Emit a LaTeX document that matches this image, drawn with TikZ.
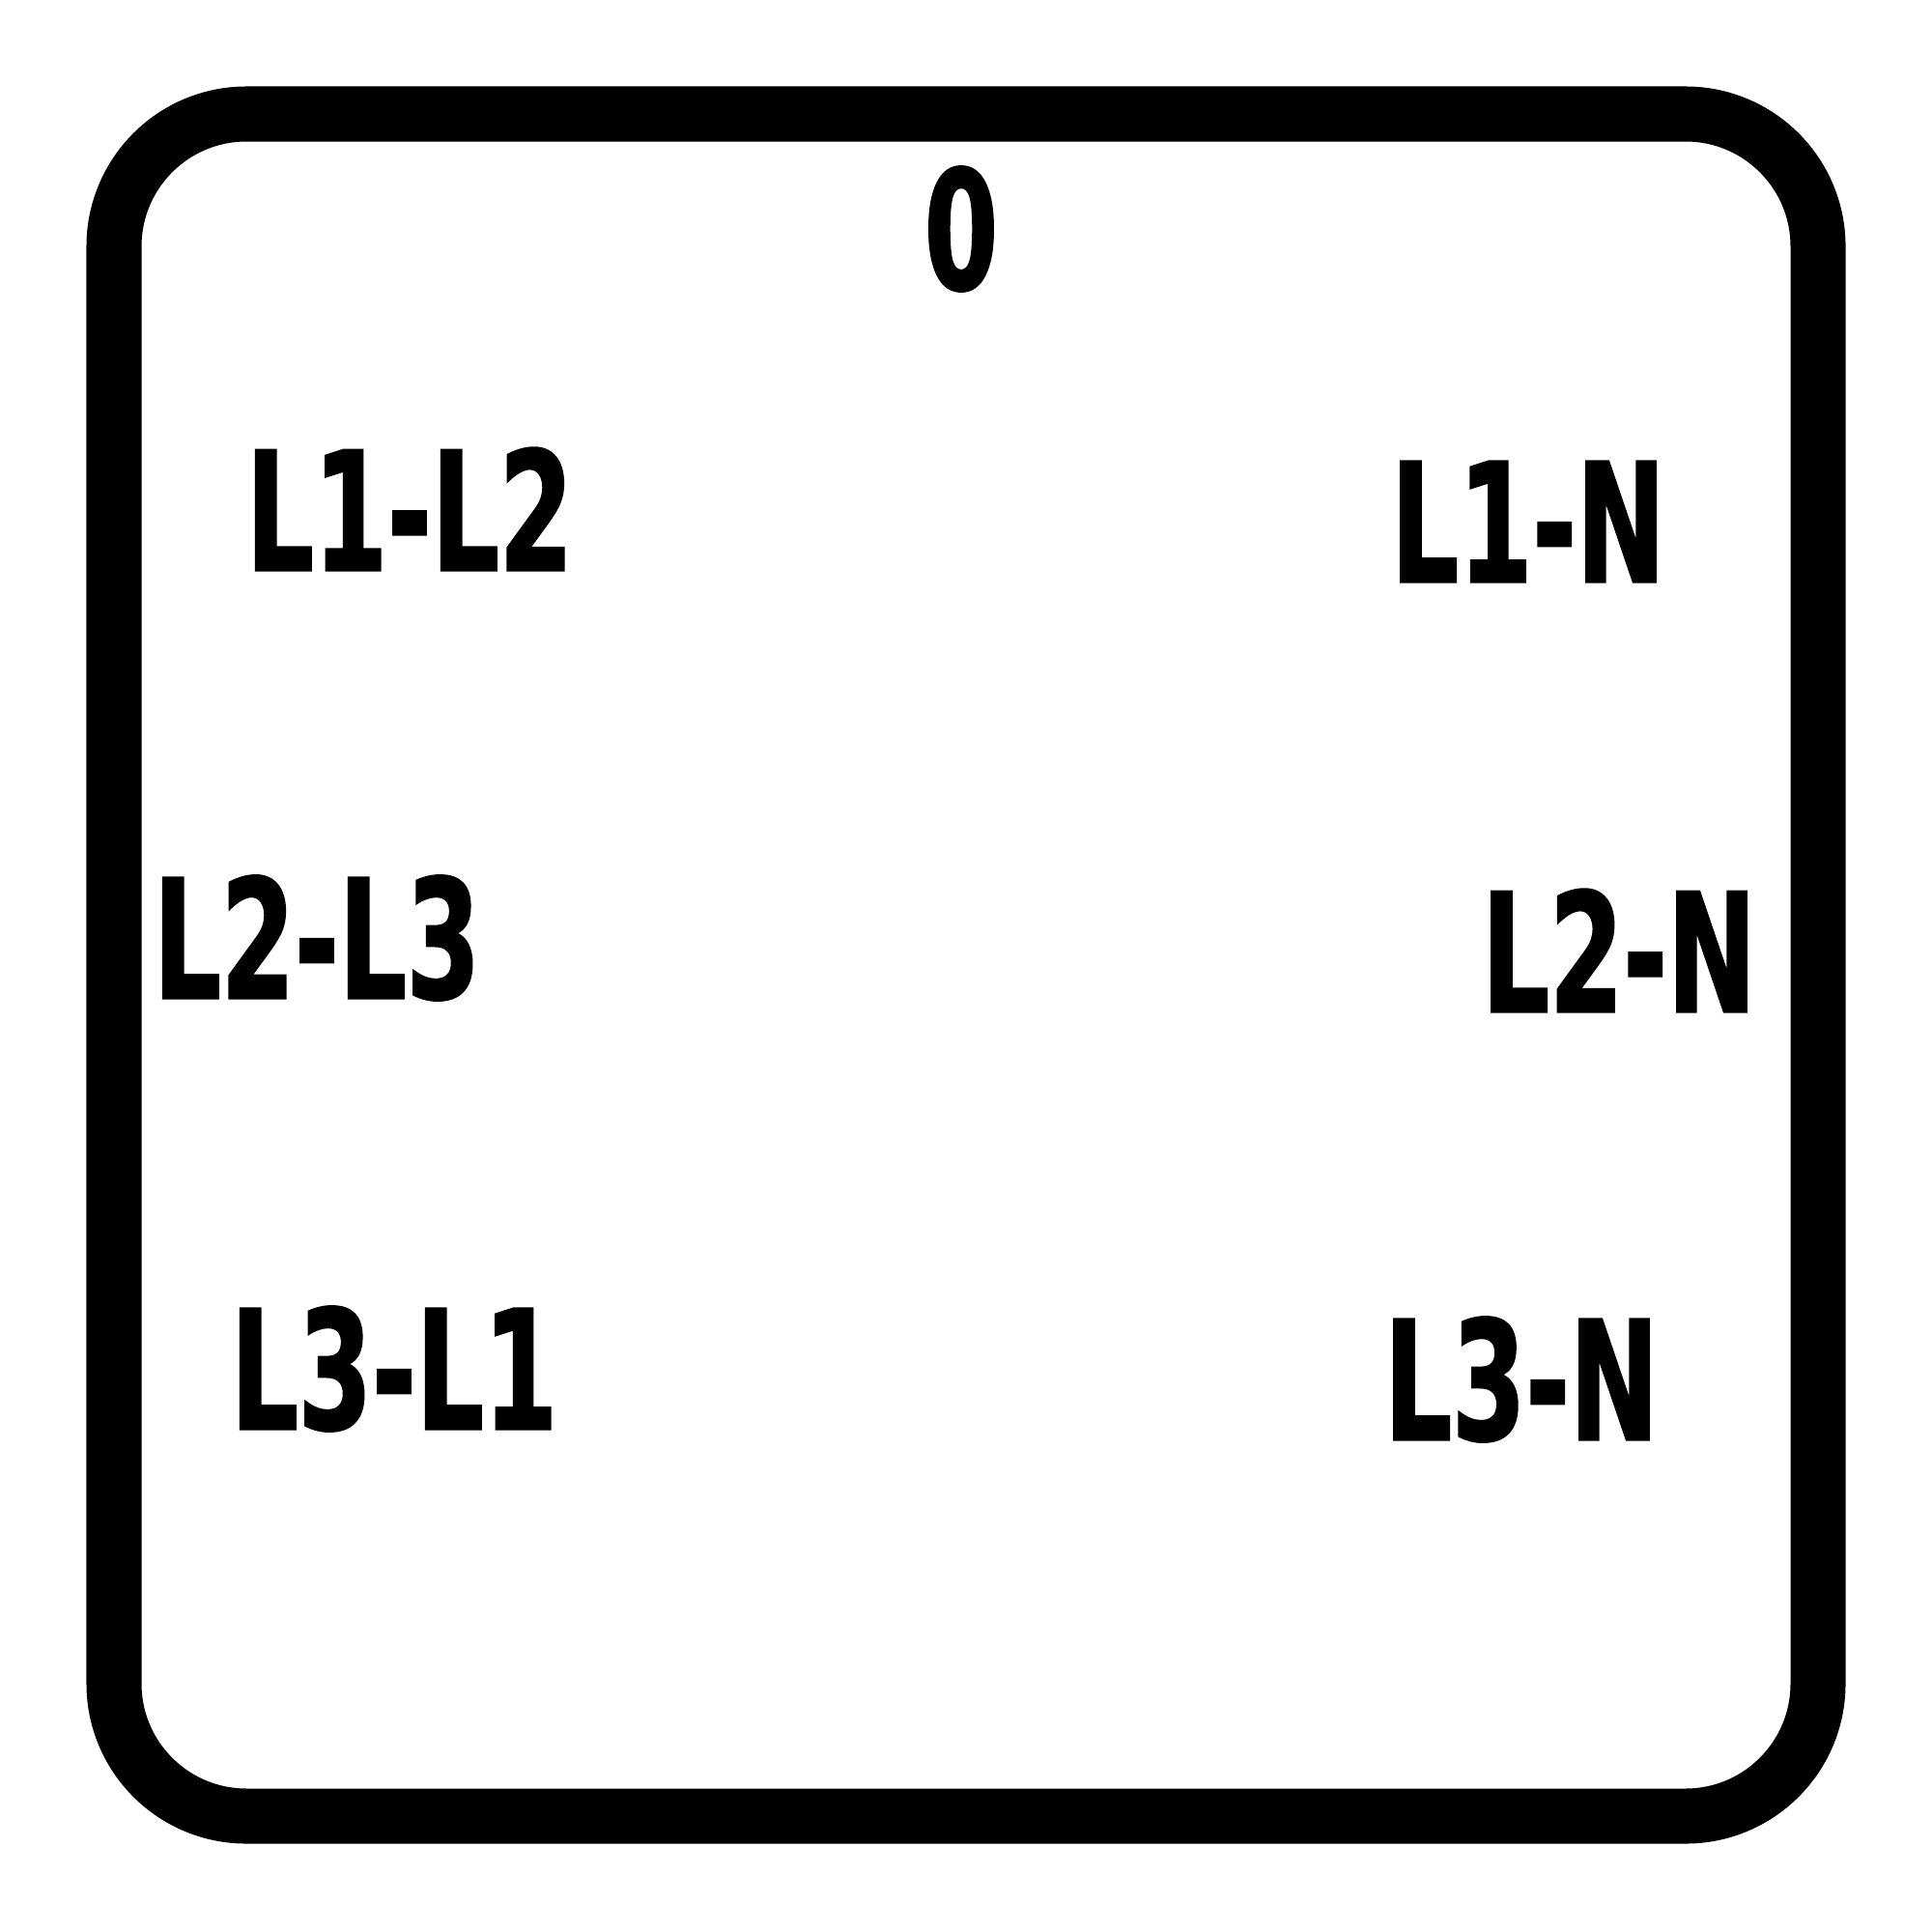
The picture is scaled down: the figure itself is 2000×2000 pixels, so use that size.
\documentclass[tikz,border=0pt]{standalone}
\usepackage{fontspec}
\setmainfont[FakeStretch=0.64, BoldFeatures={FakeBold=1.2}]{DejaVu Sans}
\usepackage{tikz}
\usetikzlibrary{positioning}
\tikzset{>=latex}

\begin{document}
\begin{tikzpicture}[x=0.01cm, y=-0.01cm, every node/.append style={inner sep=0pt, outer sep=0pt, font=\bfseries\fontsize{48.8pt}{50pt}\selectfont}, frame/.style={line width=0.57cm, rounded corners=1.37cm}]
    \useasboundingbox (0,0) rectangle (2000,2000);
    \draw[frame] (118,118) rectangle (1882,1880);
    \node (off) at (995,237) {0};
    \node (lineOneTwo) at (424,527) {L1-L2};
    \node (lineTwoThree) at (328,971) {L2-L3};
    \node (lineThreeOne) at (408,1417) {L3-L1};
    \node (lineOneN) at (1582,540) {L1-N};
    \node (lineTwoN) at (1676,984) {L2-N};
    \node (lineThreeN) at (1575,1428) {L3-N};
\end{tikzpicture}
\end{document}
